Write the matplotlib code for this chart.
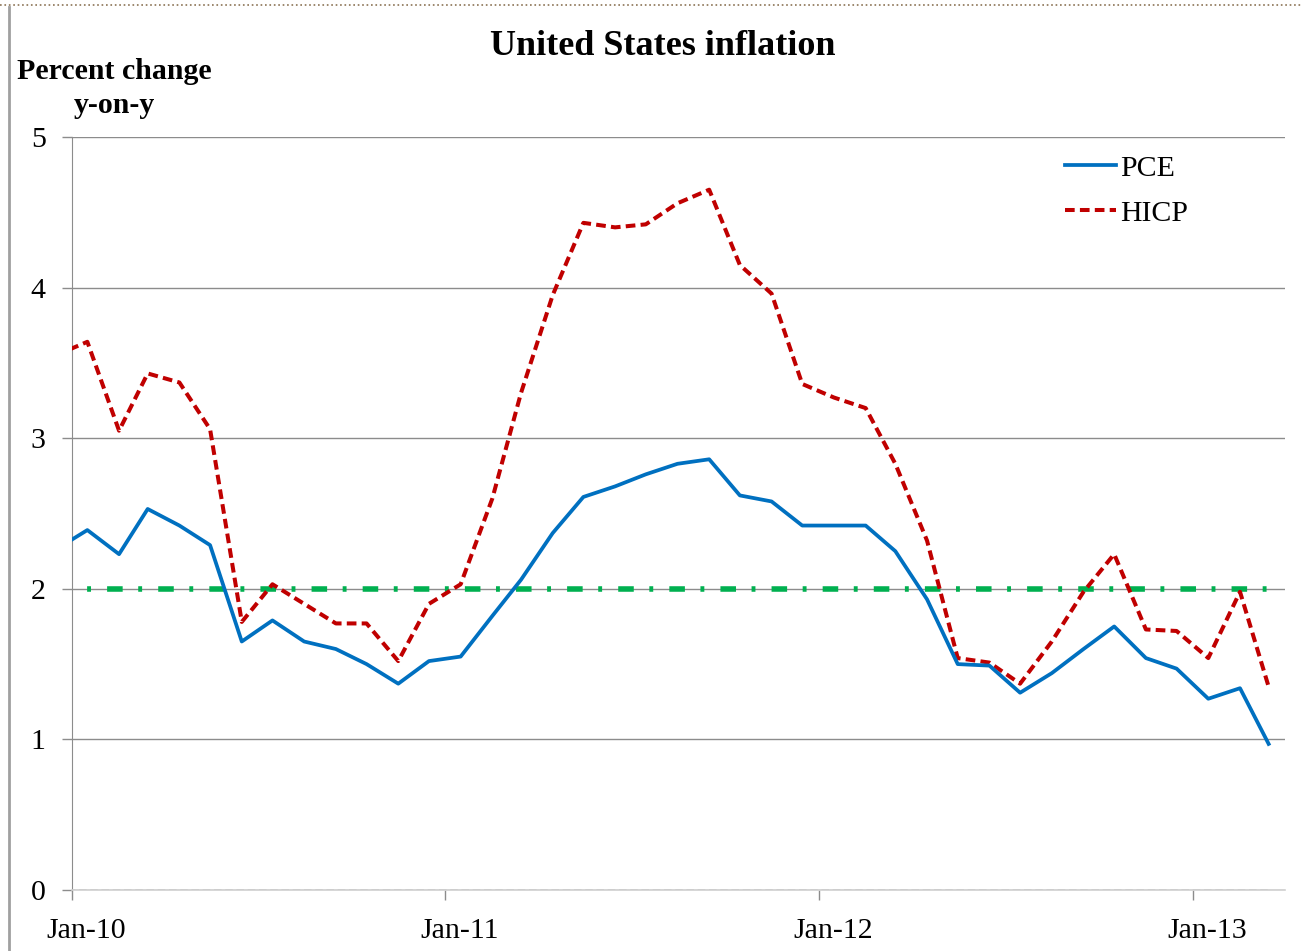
import numpy as np
import pandas as pd
import matplotlib
matplotlib.use("Agg")
import matplotlib.pyplot as plt
from matplotlib.lines import Line2D

# Monthly observations, Dec-09 .. Mar-13 (Dec-09 only shows as the clipped start)
MONTHS = pd.date_range("2009-12-01", "2013-03-01", freq="MS") + pd.Timedelta(days=15)

PCE = [2.26,
       2.39, 2.23, 2.53, 2.42, 2.29, 1.65, 1.79, 1.65, 1.60, 1.50, 1.37, 1.52,
       1.55, 1.82, 2.06, 2.37, 2.61, 2.68, 2.76, 2.83, 2.86, 2.62, 2.58, 2.42,
       2.42, 2.42, 2.25, 1.93, 1.50, 1.49, 1.31, 1.44, 1.60, 1.75, 1.54, 1.47,
       1.27, 1.34, 0.97]

HICP = [3.55,
        3.64, 3.05, 3.43, 3.37, 3.06, 1.78, 2.03, 1.90, 1.77, 1.77, 1.52, 1.90,
        2.03, 2.60, 3.30, 3.95, 4.43, 4.40, 4.42, 4.56, 4.65, 4.15, 3.96, 3.36,
        3.27, 3.20, 2.83, 2.32, 1.54, 1.51, 1.37, 1.65, 1.98, 2.23, 1.73, 1.72,
        1.54, 1.98, 1.35]

TARGET = 2.0
Y_TICKS = [0, 1, 2, 3, 4, 5]
X_TICK_YEARS = [2010, 2011, 2012, 2013]

plt.rcParams["font.family"] = ["Liberation Serif", "DejaVu Serif"]

fig = plt.figure(figsize=(13.01, 9.51), dpi=100)
ax = fig.add_axes([72 / 1301, 1 - 890 / 951, (1285 - 72) / 1301, (890 - 137) / 951])

# reference lines
ax.plot(MONTHS, np.zeros(len(MONTHS)), color="#b8b8b8", lw=1.8,
        dashes=(3, 1.5), zorder=2)
ax.plot(MONTHS, np.full(len(MONTHS), TARGET), color="#00b050", lw=4.0,
        dashes=(2.8, 2.8, 0.7, 2.9), zorder=3)

ax.plot(MONTHS, PCE, color="#0070c0", lw=2.7, label="PCE", zorder=5)
ax.plot(MONTHS, HICP, color="#c00000", lw=2.9, dashes=(2.4, 1.3),
        label="HICP", zorder=4)

ax.set_xlim(pd.Timestamp("2010-01-01"), pd.Timestamp("2013-04-01"))
ax.set_ylim(0, 5)

# grid
ax.set_yticks(Y_TICKS)
ax.yaxis.grid(True, color="#8c8c8c", lw=1.0)
ax.set_axisbelow(True)
ax.tick_params(axis="y", length=7, width=1, color="#8c8c8c", pad=12,
               labelsize=21.5)

# x ticks at Jan 1, labels at mid-January
ax.set_xticks([pd.Timestamp(f"{y}-01-01") for y in X_TICK_YEARS])
ax.set_xticklabels([])
ax.set_xticks([pd.Timestamp(f"{y}-01-15") for y in X_TICK_YEARS], minor=True)
ax.set_xticklabels([f"Jan-{str(y)[2:]}" for y in X_TICK_YEARS], minor=True)
ax.tick_params(axis="x", which="major", length=7, width=1, color="#8c8c8c",
               direction="out")
ax.tick_params(axis="x", which="minor", length=0, pad=20, labelsize=21.5)

for side in ["top", "right"]:
    ax.spines[side].set_visible(False)
ax.spines["left"].set_color("#8c8c8c")
ax.spines["bottom"].set_color("#d0d0d0")
ax.spines["bottom"].set_linewidth(1.2)

leg = ax.legend(loc="upper left", bbox_to_anchor=(1038 / 1301, 1 - 128 / 951),
                bbox_transform=fig.transFigure, frameon=False, fontsize=21.5,
                handlelength=1.7, handletextpad=0.15, labelspacing=0.6)

fig.text(663 / 1301, 1 - 55 / 951, "United States inflation", ha="center",
         va="baseline", fontsize=26, fontweight="bold")
fig.text(114 / 1301, 1 - 79 / 951, "Percent change", ha="center",
         va="baseline", fontsize=21.5, fontweight="bold")
fig.text(114 / 1301, 1 - 113 / 951, "y-on-y", ha="center",
         va="baseline", fontsize=21.5, fontweight="bold")

# frame remnants of the original slide
fig.add_artist(Line2D([0, 1], [1 - 5 / 951, 1 - 5 / 951], transform=fig.transFigure,
                      color="#8b7355", lw=1.2, ls=":"))
fig.add_artist(Line2D([9 / 1301, 9 / 1301], [0, 1 - 7 / 951], transform=fig.transFigure,
                      color="#a0a0a0", lw=2))

fig.savefig("out.png", dpi=100)
